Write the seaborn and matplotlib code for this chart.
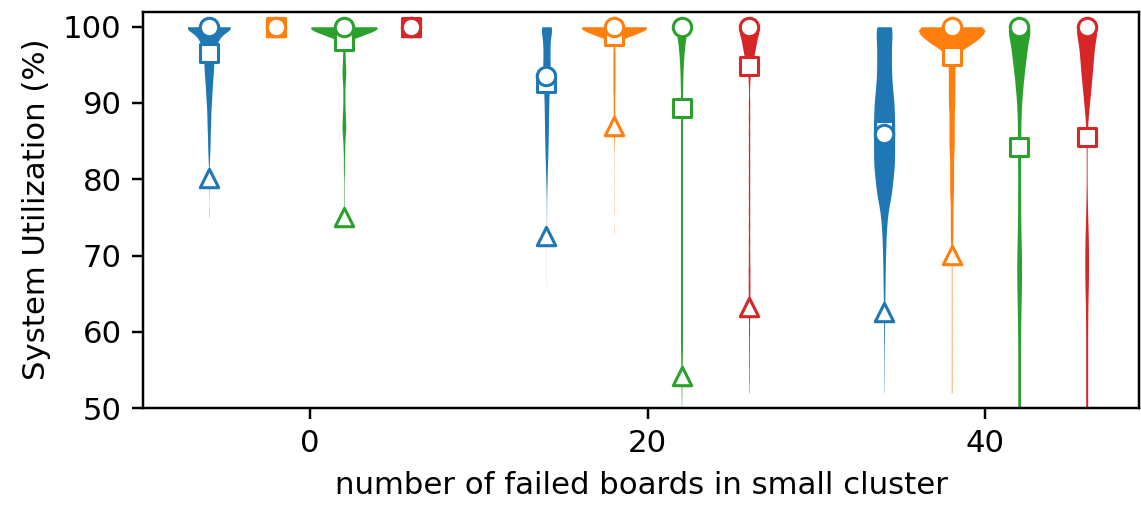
import numpy as np
import pandas as pd
import matplotlib
matplotlib.use("Agg")
import matplotlib.pyplot as plt
import seaborn as sns

GROUPS = [0, 20, 40]
OFFSETS = {"blue": -6, "orange": -2, "green": 2, "red": 6}
COLORS = {"blue": "#1f77b4", "orange": "#ff7f0e", "green": "#2ca02c", "red": "#d62728"}

# marker values per series at groups 0, 20, 40
MEDIAN = {"blue": [100, 93.6, 86.0], "orange": [100, 100, 100],
          "green": [100, 100, 100], "red": [100, 100, 100]}
MEAN = {"blue": [96.6, 92.6, 86.5], "orange": [100, 98.8, 96.2],
        "green": [98.1, 89.3, 84.2], "red": [100, 94.9, 85.6]}
LOW = {"blue": [80.2, 72.6, 62.6], "orange": [100, 87.0, 70.1],
       "green": [75.0, 54.2, 42.0], "red": [100, 63.2, 42.0]}

# utilization samples per violin: value list + how often each value occurs
BLUE_0_V = [100, 99, 98, 97, 96, 95, 94, 93, 92, 91, 90, 89, 88, 87, 86, 85,
            84, 83, 82, 81, 80, 79, 78, 76, 75]
BLUE_0_N = [180, 80, 55, 37, 31, 31, 28, 25, 21, 19, 16, 13, 12, 11, 9, 8,
            7, 5, 3, 2, 1, 1, 1, 1, 1]
GREEN_0_V = [100, 99, 97, 96, 95, 94, 93, 92, 91, 90, 89, 88, 87, 86, 85, 84,
             83, 82, 81, 80, 79, 78, 77, 76, 75]
GREEN_0_N = [170, 82, 5, 5, 6, 8, 6, 4, 4, 4, 5, 6, 8, 6, 4, 3,
             2, 2, 2, 1, 1, 1, 1, 1, 1]

BLUE_20_V = [100, 99, 98, 97, 96, 95, 94, 93, 92, 91, 90, 89, 88, 87, 86, 85,
             84, 83, 82, 81, 80, 79, 78, 77, 76, 75, 74, 73, 72, 70, 68, 66]
BLUE_20_N = [78, 45, 40, 37, 37, 40, 40, 35, 30, 27, 25, 23, 22, 21, 20, 18,
             16, 14, 12, 9, 7, 5, 3, 2, 2, 1, 1, 1, 1, 1, 1, 1]
ORANGE_20_V = [100, 99, 97, 96, 95, 94, 93, 92, 91, 90, 89, 88, 87, 86, 85,
               84, 82, 80, 78, 76, 73]
ORANGE_20_N = [170, 82, 4, 4, 4, 4, 4, 4, 3, 3, 3, 3, 2, 2, 1,
               1, 1, 1, 1, 1, 1]
GREEN_20_V = [100, 98, 96, 94, 92, 90, 88, 86, 84, 82, 80, 78, 76, 74, 72, 70,
              68, 66, 64, 62, 60, 58, 56, 54, 52, 50]
GREEN_20_N = [88, 47, 30, 20, 15, 13, 13, 13, 13, 13, 13, 13, 13, 13, 13, 13,
              13, 13, 13, 13, 13, 13, 10, 7, 4, 2]
RED_20_V = [100, 99, 98, 97, 96, 95, 94, 93, 92, 90, 88, 86, 84, 82, 80, 78,
            76, 74, 72, 70, 68, 66, 64, 62, 60, 58, 56, 54, 52]
RED_20_N = [78, 45, 40, 33, 25, 15, 6, 4, 4, 7, 7, 7, 7, 7, 7, 7,
            7, 7, 7, 7, 9, 9, 9, 6, 5, 4, 4, 3, 2]

BLUE_40_V = [100, 98, 96, 94, 92, 90, 88, 86, 84, 82, 80, 78, 76, 74, 72, 70,
             68, 66, 64, 62, 60, 58, 56, 54, 52]
BLUE_40_N = [85, 70, 70, 70, 80, 95, 100, 100, 100, 100, 85, 70, 40, 25, 18, 14,
             11, 9, 7, 5, 4, 3, 2, 2, 1]
ORANGE_40_V = [100, 99, 98, 97, 96, 95, 94, 93, 92, 91, 90, 89, 88, 87, 86, 85,
               84, 83, 82, 81, 80, 79, 78, 77, 76, 75, 74, 73, 72, 71, 70, 68,
               66, 64, 62, 60, 58, 56, 54, 52]
ORANGE_40_N = [70, 45, 40, 12, 5, 5, 5, 5, 5, 5, 5, 4, 4, 4, 4, 4,
               4, 3, 3, 3, 3, 3, 3, 2, 2, 2, 2, 2, 2, 1, 1, 1,
               1, 1, 1, 1, 1, 1, 1, 1]
GREEN_40_V = [100, 98, 96, 94, 92, 90, 88, 86, 84, 82, 80, 78, 76, 74, 72, 70,
              68, 66, 64, 62, 60, 58, 56, 54, 52, 50, 48, 46, 44]
GREEN_40_N = [86, 57, 46, 34, 24, 16, 12, 11, 10, 10, 9, 10, 10, 11, 13, 15,
              16, 15, 13, 11, 10, 9, 9, 9, 9, 9, 9, 6, 3]
RED_40_V = [100, 98, 96, 94, 92, 90, 88, 86, 84, 82, 80, 78, 76, 74, 72, 70,
            68, 66, 64, 62, 60, 58, 56, 54, 52, 50, 48, 46, 44]
RED_40_N = [86, 57, 48, 40, 30, 20, 10, 4, 3, 3, 3, 4, 6, 9, 12, 13,
            13, 12, 9, 8, 7, 7, 7, 7, 7, 7, 7, 5, 3]

# orange and red at 0 failed boards are constant at 100 -> no violin body
VIOLINS = [
    ("blue", 0, BLUE_0_V, BLUE_0_N),
    ("green", 0, GREEN_0_V, GREEN_0_N),
    ("blue", 20, BLUE_20_V, BLUE_20_N),
    ("orange", 20, ORANGE_20_V, ORANGE_20_N),
    ("green", 20, GREEN_20_V, GREEN_20_N),
    ("red", 20, RED_20_V, RED_20_N),
    ("blue", 40, BLUE_40_V, BLUE_40_N),
    ("orange", 40, ORANGE_40_V, ORANGE_40_N),
    ("green", 40, GREEN_40_V, GREEN_40_N),
    ("red", 40, RED_40_V, RED_40_N),
]

# drawing style per violin: max width (x units) and kernel bandwidth (% units)
VIOLIN_WIDTH = {("blue", 0): 2.55, ("green", 0): 3.95, ("blue", 20): 0.6,
                ("orange", 20): 3.85, ("green", 20): 0.6, ("red", 20): 1.2,
                ("blue", 40): 1.25, ("orange", 40): 3.95, ("green", 40): 1.28,
                ("red", 40): 1.2}
KERNEL_BW = {("blue", 0): 0.6, ("green", 0): 0.6, ("blue", 20): 0.8,
             ("orange", 20): 0.6, ("green", 20): 1.2, ("red", 20): 0.8,
             ("blue", 40): 1.2, ("orange", 40): 0.8, ("green", 40): 1.2,
             ("red", 40): 1.2}


def fixed_bw(bw):
    return lambda kde: bw / np.std(kde.dataset, ddof=1)


DPI = 221
fig = plt.figure(figsize=(1141 / DPI, 505 / DPI), dpi=DPI)
ax = fig.add_axes([143 / 1141, 1 - 408 / 505, (1139 - 143) / 1141, (408 - 11.5) / 505])

for name, g, vals, counts in VIOLINS:
    util = np.repeat(vals, counts)
    d = pd.DataFrame({"pos": g + OFFSETS[name], "util": util})
    sns.violinplot(data=d, x="pos", y="util", orient="x", native_scale=True,
                   color=COLORS[name], saturation=1, linewidth=0, inner=None,
                   cut=0, density_norm="width", width=VIOLIN_WIDTH[(name, g)],
                   bw_method=fixed_bw(KERNEL_BW[(name, g)]), ax=ax)

for name, color in COLORS.items():
    xs = [g + OFFSETS[name] for g in GROUPS]
    mk = dict(facecolors="white", edgecolors=color, linewidths=1.0, s=36, zorder=3)
    ax.scatter(xs, LOW[name], marker="^", **mk)
    ax.scatter(xs, MEAN[name], marker="s", **mk)
    ax.scatter(xs, MEDIAN[name], marker="o", **mk)

ax.set_xlim(-9.9, 49.1)
ax.set_ylim(50, 102)
ax.set_xticks([0, 20, 40])
ax.set_yticks([50, 60, 70, 80, 90, 100])
ax.set_xlabel("number of failed boards in small cluster")
ax.set_ylabel("System Utilization (%)")

fig.savefig("out.png", dpi=DPI)
